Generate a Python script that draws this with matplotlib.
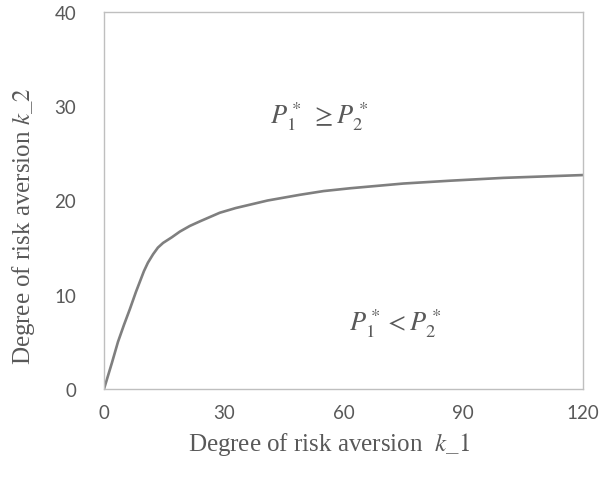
import matplotlib
matplotlib.use("Agg")
import matplotlib.pyplot as plt

# boundary curve
k1 = [0, 2, 3.5, 5, 6.5, 8, 9, 10, 11, 12.3, 13.5, 14.8, 17, 19, 21.5, 24.1, 29,
      33, 41, 49, 55, 61.7, 75, 86.7, 100, 120]
k2 = [0, 2.8, 5.0, 6.8, 8.5, 10.3, 11.4, 12.5, 13.4, 14.3, 15.0, 15.5, 16.1, 16.7,
      17.3, 17.8, 18.7, 19.2, 20.0, 20.6, 21.0, 21.3, 21.8, 22.1, 22.4, 22.7]

x_ticks = [0, 30, 60, 90, 120]
y_ticks = [0, 10, 20, 30, 40]

grey = "#595959"
plt.rcParams["mathtext.fontset"] = "stix"
plt.rcParams["font.family"] = ["Lato", "DejaVu Sans"]

fig = plt.figure(figsize=(6.04, 4.85), dpi=100)
ax = fig.add_axes([104 / 604, 95 / 485, 479 / 604, 377 / 485])

ax.plot(k1, k2, color="#7f7f7f", linewidth=1.9)

ax.set_xlim(0, 120)
ax.set_ylim(0, 40)
ax.set_xticks(x_ticks)
ax.set_yticks(y_ticks)
for s in ax.spines.values():
    s.set_color("#bfbfbf")
    s.set_linewidth(1.0)
ax.tick_params(length=0, labelsize=13.5, labelcolor=grey)
ax.tick_params(axis="x", pad=11)
ax.tick_params(axis="y", pad=20)

ax.set_xlabel(r"Degree of risk aversion  $\mathit{k\_1}$", fontsize=18,
              family="Liberation Serif", color=grey)
ax.set_ylabel(r"Degree of risk aversion $\mathit{k\_2}$", fontsize=18,
              family="Liberation Serif", color=grey)
ax.xaxis.set_label_coords(0.47, -0.11)
ax.yaxis.set_label_coords(-0.14, 0.435)

ax.text(54, 29, r"$P_1^*\ \geq P_2^*$", fontsize=19, color=grey, ha="center", va="center")
ax.text(73, 7.1, r"$P_1^* < P_2^*$", fontsize=19, color=grey, ha="center", va="center")

fig.savefig("out.png", dpi=100)
